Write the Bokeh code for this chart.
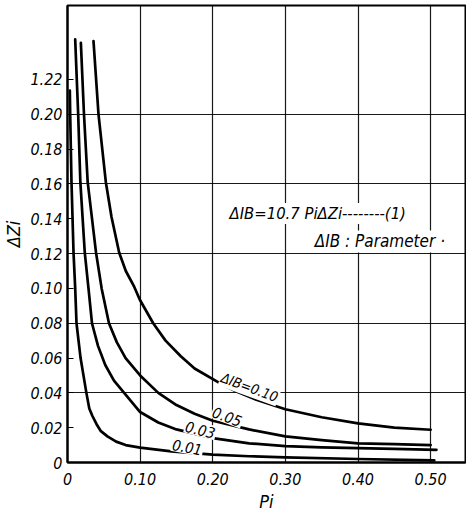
from bokeh.plotting import figure
from bokeh.models import Range1d, FixedTicker, Label
from bokeh.embed import file_html
from bokeh.resources import INLINE

# ---- data ----
pi_010 = [0.0358, 0.0427, 0.0528, 0.0606, 0.0712, 0.0803, 0.0918, 0.0996, 0.118, 0.135, 0.156,
          0.175, 0.212, 0.231, 0.260, 0.300, 0.350, 0.400, 0.450, 0.500]
dz_010 = [0.242, 0.200, 0.161, 0.141, 0.1205, 0.110, 0.101, 0.0935, 0.080, 0.070, 0.061,
          0.054, 0.045, 0.041, 0.036, 0.0306, 0.026, 0.0225, 0.020, 0.0188]

pi_005 = [0.0184, 0.0227, 0.0278, 0.0393, 0.047, 0.0571, 0.068, 0.080, 0.100, 0.125, 0.150,
          0.175, 0.200, 0.250, 0.300, 0.350, 0.400, 0.450, 0.500]
dz_005 = [0.241, 0.200, 0.161, 0.1205, 0.100, 0.080, 0.069, 0.060, 0.050, 0.040, 0.033,
          0.028, 0.024, 0.019, 0.015, 0.0128, 0.011, 0.0105, 0.0100]

pi_003 = [0.0106, 0.0147, 0.0177, 0.0238, 0.0289, 0.0337, 0.042, 0.052, 0.064, 0.078, 0.100,
          0.125, 0.150, 0.200, 0.250, 0.300, 0.350, 0.400, 0.450, 0.508]
dz_003 = [0.243, 0.200, 0.161, 0.1205, 0.100, 0.080, 0.067, 0.056, 0.047, 0.040, 0.029,
          0.023, 0.019, 0.014, 0.011, 0.0094, 0.0087, 0.0082, 0.0078, 0.0073]

pi_001 = [0.0032, 0.0037, 0.0055, 0.0083, 0.0106, 0.0124, 0.018, 0.026, 0.030, 0.034, 0.040,
          0.046, 0.055, 0.067, 0.080, 0.100, 0.143, 0.200, 0.250, 0.300, 0.400, 0.505]
dz_001 = [0.2136, 0.200, 0.161, 0.1205, 0.100, 0.080, 0.060, 0.040, 0.031, 0.027, 0.022,
          0.018, 0.015, 0.012, 0.010, 0.0085, 0.0064, 0.0045, 0.0036, 0.0029, 0.0020, 0.0012]

x_ticks = [0, 0.1, 0.2, 0.3, 0.4, 0.5]
x_tick_labels = ["0", "0.10", "0.20", "0.30", "0.40", "0.50"]
y_ticks = [0, 0.02, 0.04, 0.06, 0.08, 0.10, 0.12, 0.14, 0.16, 0.18, 0.20, 0.22]
y_tick_labels = ["0", "0.02", "0.04", "0.06", "0.08", "0.10", "0.12", "0.14", "0.16",
                 "0.18", "0.20", "1.22"]
x_grid = [0.1, 0.2, 0.3, 0.4, 0.5]
y_grid = [0.04, 0.08, 0.12, 0.16, 0.20]

FONT = "DejaVu Sans Condensed"

p = figure(width=466, height=514, output_backend="svg", toolbar_location=None,
           x_range=Range1d(0, 0.548), y_range=Range1d(0, 0.2625),
           min_border_left=67, min_border_right=1, min_border_top=5, min_border_bottom=46,
           background_fill_color="white", border_fill_color="white")

p.outline_line_color = "black"
p.outline_line_width = 2

# axes
p.xaxis.ticker = FixedTicker(ticks=x_ticks)
p.xaxis.major_label_overrides = {t: l for t, l in zip(x_ticks, x_tick_labels)}
p.yaxis.ticker = FixedTicker(ticks=y_ticks)
p.yaxis.major_label_overrides = {t: l for t, l in zip(y_ticks, y_tick_labels)}
for ax in (p.xaxis, p.yaxis):
    ax.axis_line_color = "black"
    ax.axis_line_width = 2
    ax.minor_tick_line_color = None
    ax.major_label_text_font = FONT
    ax.major_label_text_font_style = "italic"
    ax.major_label_text_font_size = "16px"
    ax.major_label_text_color = "black"
    ax.axis_label_text_font = FONT
    ax.axis_label_text_font_style = "italic"
    ax.axis_label_text_font_size = "18px"
    ax.axis_label_text_color = "black"
p.xaxis.major_label_standoff = 4
p.yaxis.major_label_standoff = 5
p.xaxis.major_tick_line_color = None
p.yaxis.major_tick_in = 6
p.yaxis.major_tick_out = 0
p.yaxis.major_tick_line_color = "black"
p.yaxis.major_tick_line_width = 1
p.xaxis.axis_label = "Pi"
p.yaxis.axis_label = "ΔZi"
p.xaxis.axis_label_standoff = 3
p.yaxis.axis_label_standoff = 3

# grids
p.xgrid.ticker = FixedTicker(ticks=x_grid)
p.ygrid.ticker = FixedTicker(ticks=y_grid)
for g in (p.xgrid, p.ygrid):
    g.grid_line_color = "black"
    g.grid_line_width = 1.2
    g.grid_line_alpha = 0.9

# curves
for xs, ys in ((pi_001, dz_001), (pi_003, dz_003), (pi_005, dz_005), (pi_010, dz_010)):
    p.line(xs, ys, line_color="black", line_width=2.7, line_join="round", line_cap="round")

def lab(x, y, text, size, angle=0.0, align="center"):
    p.add_layout(Label(x=x, y=y, text=text, text_font=FONT, text_font_style="italic",
                       text_font_size=size, text_color="black", angle=angle,
                       text_align=align, text_baseline="middle",
                       background_fill_color="white", padding=1))

# curve labels
lab(0.2507, 0.0432, "ΔIB=0.10", "14px", -0.35)
lab(0.2200, 0.0265, "0.05", "15px", -0.35)
lab(0.1830, 0.0190, "0.03", "15px", -0.25)
lab(0.1650, 0.0090, "0.01", "15px", -0.18)

# equation annotation
lab(0.2218, 0.1430, "ΔIB=10.7 PiΔZi--------(1)", "16.5px", 0.0, "left")
lab(0.3390, 0.1270, "ΔIB : Parameter ·", "17px", 0.0, "left")

open("out.html", "w").write(file_html(p, INLINE))
